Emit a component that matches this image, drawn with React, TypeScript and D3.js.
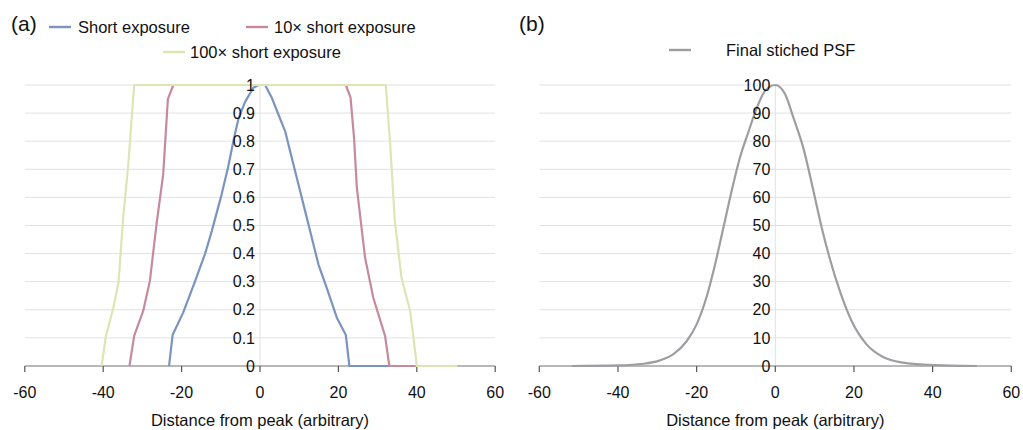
import React, { useEffect, useRef } from 'react';
import * as d3 from 'd3';

// (a) normalised profiles
const shortX = [-23.2, -22.3, -19.6, -16.6, -14.0, -12.3, -9.8, -8.1, -6.8, -5.5, -3.8, -1.7, -0.4, 1.3, 3.0, 4.7, 6.4, 8.1, 9.8, 11.5, 13.2, 14.9, 17.0, 19.6, 21.9, 22.8, 33.2];
const shortY = [0, 0.11, 0.19, 0.3, 0.4, 0.48, 0.61, 0.71, 0.8, 0.88, 0.94, 0.99, 1, 1, 0.955, 0.895, 0.836, 0.741, 0.647, 0.552, 0.457, 0.362, 0.279, 0.172, 0.11, 0, 0];

const tenX = [-33.3, -32.1, -29.8, -28.1, -26.4, -24.7, -23.5, -22.1, 21.9, 23.1, 24.0, 24.7, 26.8, 28.9, 31.9, 33.0, 40.0];
const tenY = [0, 0.107, 0.196, 0.302, 0.504, 0.682, 0.95, 1, 1, 0.955, 0.81, 0.635, 0.386, 0.243, 0.107, 0, 0];

const hundredX = [-40.4, -39.3, -37.4, -36.1, -34.9, -33.6, -32.1, 32.1, 33.2, 34.4, 36.1, 38.3, 39.1, 40.0, 50.3];
const hundredY = [0, 0.107, 0.208, 0.297, 0.528, 0.718, 1, 1, 0.79, 0.516, 0.314, 0.196, 0.107, 0, 0];

// (b) stitched PSF
const psfX = [-51.7, -39.9, -33.5, -29.3, -25.9, -22.5, -20.0, -17.4, -15.3, -13.2, -11.1, -9.0, -6.9, -4.7, -2.6, 0, 2.5, 4.6, 7.1, 9.7, 11.8, 13.9, 16.4, 19.4, 23.2, 27.4, 32.5, 39.3, 51.2];
const psfY = [0, 0.2, 0.8, 2, 4.2, 8.9, 14.8, 24.9, 36.2, 49.2, 62.3, 74.1, 83, 91.9, 97.9, 100, 96.7, 88.4, 77.7, 62.3, 49.2, 38, 26.7, 16, 7.7, 3.2, 1.2, 0.4, 0];

const xTicks = [-60, -40, -20, 0, 20, 40, 60];
const yTicksA = d3.range(0, 11).map(i => i / 10);
const yTicksB = d3.range(0, 11).map(i => i * 10);

const FONT = 'Liberation Sans, Arial, sans-serif';

const App = () => {
  const svgRef = useRef(null);

  useEffect(() => {
    const svg = d3.select(svgRef.current);
    svg.selectAll('*').remove();

    const drawPanel = (opts) => {
      const { x0, x1, yTicks, yMax, fmt, series, curve } = opts;
      const x = d3.scaleLinear().domain([-60, 60]).range([x0, x1]);
      const y = d3.scaleLinear().domain([0, yMax]).range([366, 85]);
      const g = svg.append('g');

      // grid
      g.selectAll('.grid').data(yTicks.slice(1)).enter().append('line')
        .attr('x1', x(-60)).attr('x2', x(60))
        .attr('y1', d => y(d)).attr('y2', d => y(d))
        .attr('stroke', '#e2e2e2').attr('stroke-width', 1);
      g.append('line')
        .attr('x1', x(0)).attr('x2', x(0))
        .attr('y1', y(0)).attr('y2', y(yMax))
        .attr('stroke', '#e2e2e2').attr('stroke-width', 1);

      // x axis
      g.append('line')
        .attr('x1', x(-60)).attr('x2', x(60))
        .attr('y1', y(0)).attr('y2', y(0))
        .attr('stroke', '#a0a0a0').attr('stroke-width', 1.3);
      g.selectAll('.xt').data(xTicks).enter().append('line')
        .attr('x1', d => x(d)).attr('x2', d => x(d))
        .attr('y1', y(0)).attr('y2', y(0) + 6)
        .attr('stroke', '#555').attr('stroke-width', 1.2);
      g.selectAll('.xl').data(xTicks).enter().append('text')
        .attr('x', d => x(d)).attr('y', 398)
        .attr('text-anchor', 'middle')
        .attr('font-family', FONT).attr('font-size', 16).attr('fill', '#111')
        .text(d => d);
      g.append('text')
        .attr('x', x(0)).attr('y', 426)
        .attr('text-anchor', 'middle')
        .attr('font-family', FONT).attr('font-size', 16.5).attr('fill', '#111')
        .text('Distance from peak (arbitrary)');

      // series
      series.forEach(s => {
        const pts = s.xs.map((v, i) => [v, s.ys[i]]);
        const line = d3.line().x(d => x(d[0])).y(d => y(d[1])).curve(curve);
        g.append('path')
          .attr('d', line(pts))
          .attr('fill', 'none')
          .attr('stroke', s.color)
          .attr('stroke-width', 2.2)
          .attr('stroke-linejoin', 'round');
      });

      // y labels at the zero line
      g.selectAll('.yl').data(yTicks).enter().append('text')
        .attr('x', x(0) - 5).attr('y', d => y(d))
        .attr('dy', '0.35em')
        .attr('text-anchor', 'end')
        .attr('font-family', FONT).attr('font-size', 16).attr('fill', '#111')
        .text(d => fmt(d));
    };

    const blue = '#7b93bf';
    const pink = '#c68b9b';
    const yellow = '#dde5b5';
    const grey = '#9d9da2';

    drawPanel({
      x0: 24.8, x1: 495.2, yTicks: yTicksA, yMax: 1,
      fmt: d => String(+d.toFixed(1)),
      curve: d3.curveLinear,
      series: [
        { xs: shortX, ys: shortY, color: blue },
        { xs: tenX, ys: tenY, color: pink },
        { xs: hundredX, ys: hundredY, color: yellow },
      ],
    });
    drawPanel({
      x0: 539.3, x1: 1011.3, yTicks: yTicksB, yMax: 100,
      fmt: d => String(d),
      curve: d3.curveMonotoneX,
      series: [{ xs: psfX, ys: psfY, color: grey }],
    });

    // panel letters
    const letter = (tx, t) => svg.append('text')
      .attr('x', tx).attr('y', 31)
      .attr('font-family', FONT).attr('font-size', 21).attr('fill', '#111')
      .text(t);
    letter(11, '(a)');
    letter(519, '(b)');

    // legends
    const legend = [
      { lx: 49, ty: 27, tx: 78, color: blue, label: 'Short exposure' },
      { lx: 246, ty: 27, tx: 274, color: pink, label: '10× short exposure' },
      { lx: 163, ty: 52, tx: 190, color: yellow, label: '100× short exposure' },
      { lx: 669, ty: 50, tx: 726, color: grey, label: 'Final stiched PSF' },
    ];
    legend.forEach(l => {
      svg.append('line')
        .attr('x1', l.lx).attr('x2', l.lx + 22)
        .attr('y1', l.ty).attr('y2', l.ty)
        .attr('stroke', l.color).attr('stroke-width', 2.4);
      svg.append('text')
        .attr('x', l.tx).attr('y', l.ty).attr('dy', '0.35em')
        .attr('font-family', FONT).attr('font-size', 16.5).attr('fill', '#111')
        .text(l.label);
    });
  }, []);

  return (
    <div style={{ position: 'absolute', left: 0, top: 0 }}>
      <svg ref={svgRef} width={1023} height={430} style={{ display: 'block', background: '#fff' }}></svg>
    </div>
  );
};

export default App;
